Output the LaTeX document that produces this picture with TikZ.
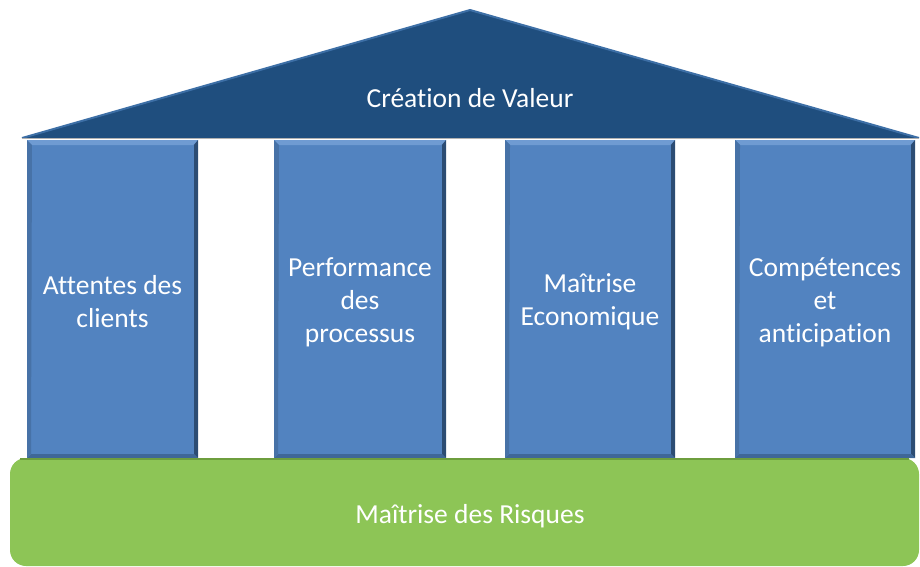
\documentclass[tikz,border=0pt]{standalone}
\usepackage{fontspec}
\setmainfont[Ligatures=NoCommon]{Carlito}
\usetikzlibrary{calc}
\definecolor{roofblue}{HTML}{1F4E7E}
\definecolor{roofedge}{HTML}{3D6FA6}
\definecolor{colblue}{HTML}{5283C0}
\definecolor{colhi}{HTML}{6F9BD2}
\definecolor{coldark}{HTML}{2C4C73}
\definecolor{colmid}{HTML}{3F6797}
\definecolor{basegreen}{HTML}{8DC556}
\definecolor{greendark}{HTML}{6E9E3E}
\tikzset{
  lbl/.style={text=white, font=\fontsize{27.5}{33}\selectfont, align=center},
  colbox/.style={fill=colblue, minimum height=318, inner sep=0pt,
    path picture={
      \coordinate (pnw) at (path picture bounding box.north west);
      \coordinate (pne) at (path picture bounding box.north east);
      \coordinate (psw) at (path picture bounding box.south west);
      \coordinate (pse) at (path picture bounding box.south east);
      \fill[colhi] (pnw) -- (pne) -- ($(pne)+(-5,5)$) -- ($(pnw)+(5,5)$) -- cycle;
      \fill[coldark] (pne) -- (pse) -- ($(pse)+(-4,-4)$) -- ($(pne)+(-4,5)$) -- cycle;
      \fill[colmid] (psw) -- (pse) -- ($(pse)+(-4,-4)$) -- ($(psw)+(4,-4)$) -- cycle;
      \fill[colmid!60!colblue] (pnw) -- (psw) -- ($(psw)+(4,-4)$) -- ($(pnw)+(5,5)$) -- cycle;
    }},
}
\begin{document}
\begin{tikzpicture}[x=1pt,y=-1pt]
\useasboundingbox (0,0) rectangle (920,566);
% roof
\coordinate (rl) at (22,138);
\coordinate (rt) at (470,10);
\coordinate (rr) at (919,138);
\fill[roofblue] (rl) -- (rt) -- (rr) -- cycle;
\draw[roofedge, line width=2pt, line join=round] (rl) -- (rt) -- (rr);
\draw[gray!60, line width=1.5pt] (22,138.5) -- (919,138.5);
\node[lbl] (roof) at (470,98) {Création de Valeur};
% columns
\node[colbox, minimum width=171] (c1) at (112.5,299) {};
\node[colbox, minimum width=172] (c2) at (360,299) {};
\node[colbox, minimum width=170] (c3) at (590,299) {};
\node[colbox, minimum width=180] (c4) at (825,299) {};
\node[lbl] (t1) at ($(c1.center)+(0,3)$) {Attentes des\\clients};
\node[lbl] (t2) at ($(c2.center)+(0,3)$) {Performance\\des\\processus};
\node[lbl] (t3) at ($(c3.center)+(0,3)$) {Maîtrise\\Economique};
\node[lbl] (t4) at ($(c4.center)+(0,3)$) {Compétences\\et\\anticipation};
% base
\fill[basegreen, rounded corners=16pt] (10,458) rectangle (919,566);
\draw[greendark, line width=1.5pt] (20,459) -- (909,459);
\node[lbl] (base) at (470,516) {Maîtrise des Risques};
\end{tikzpicture}
\end{document}
